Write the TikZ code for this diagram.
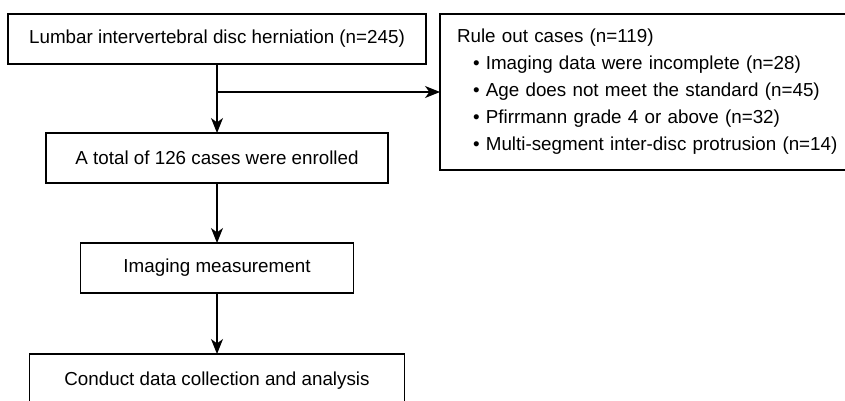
\documentclass[tikz,border=0pt]{standalone}
\usepackage{fontspec}
\setmainfont{Liberation Sans}
\usepackage{tikz}
\usetikzlibrary{shapes,arrows.meta,positioning}

\begin{document}
\begin{tikzpicture}[
        node distance=30pt,
        every node/.style={font=\fontsize{9.4}{13.5}\selectfont, outer sep=0pt},
        block/.style={rectangle, draw=black, line width=0.6pt, fill=white, minimum height=25pt, inner sep=0pt},
        exclude/.style={rectangle, draw=black, line width=0.6pt, fill=white, align=left, text width=195pt, inner xsep=8.5pt, minimum height=78pt},
        line/.style={draw, line width=0.6pt, -{Stealth[length=7.5pt, width=6pt, inset=2.2pt]}}
    ]
        % Page
        \useasboundingbox (0,0) rectangle (422.5pt,-200.5pt);
        \clip (0,0) rectangle (422.5pt,-200.5pt);

        % Main flow
        \node[block, minimum width=209pt] (lumbar) at (108.5pt,-19.5pt) {Lumbar intervertebral disc herniation (n=245)};
        \node[block, minimum width=171pt] (enrolled) [below=34.5pt of lumbar] {A total of 126 cases were enrolled};
        \node[block, minimum width=136.5pt] (measure) [below=30pt of enrolled] {Imaging measurement};
        \node[block, minimum width=187.5pt, minimum height=27pt] (collect) [below=30.5pt of measure] {Conduct data collection and analysis};

        % Exclusions
        \node[exclude] (ruleout) [right=7pt of lumbar.north east, anchor=north west] {Rule out cases (n=119)\\
            \hspace*{8pt}\textbullet\ Imaging data were incomplete (n=28)\\
            \hspace*{8pt}\textbullet\ Age does not meet the standard (n=45)\\
            \hspace*{8pt}\textbullet\ Pfirrmann grade 4 or above (n=32)\\
            \hspace*{8pt}\textbullet\ Multi-segment inter-disc protrusion (n=14)};
        \coordinate (split) at ([yshift=-14pt]lumbar.south);

        % Connections
        \draw[line] (lumbar) -- (enrolled);
        \draw[line] (split) -- (split -| ruleout.west);
        \draw[line] (enrolled) -- (measure);
        \draw[line] (measure) -- (collect);
    \end{tikzpicture}
\end{document}
